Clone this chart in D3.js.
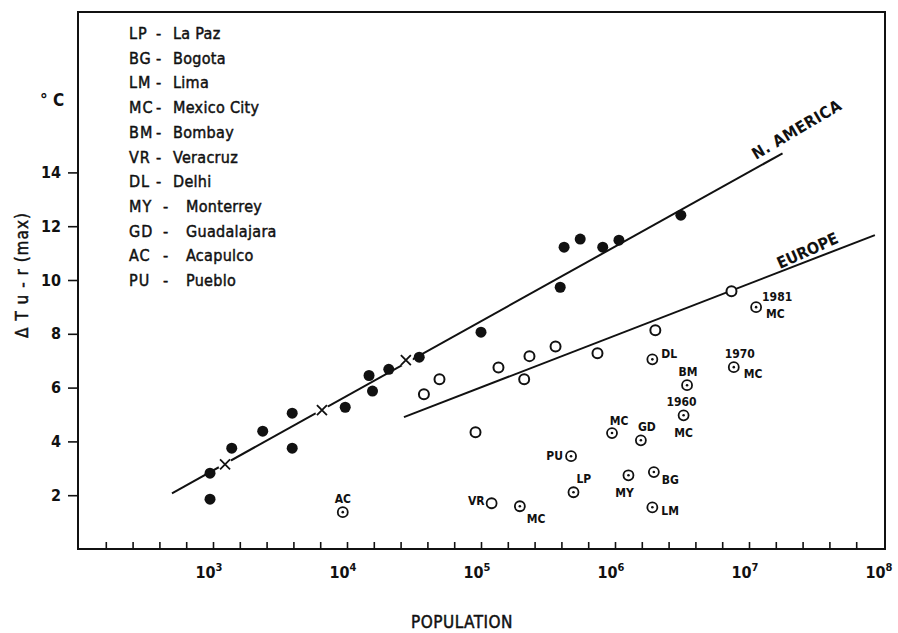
<!DOCTYPE html>
<html>
<head>
<meta charset="utf-8">
<script src="https://cdn.jsdelivr.net/npm/d3@7"></script>
<style>
  body { margin: 0; background: #fff; }
  svg text { font-family: "DejaVu Sans Condensed", "Liberation Sans Narrow", sans-serif; font-weight: bold; fill: #111; }
  svg text.medium { font-weight: normal; stroke: #111; stroke-width: 0.45px; }
</style>
</head>
<body>
<div id="chart"></div>
<script>
// ---- data (population, delta T) ----
const naFilled = [
  [950, 2.82], [950, 1.85], [1380, 3.75], [2350, 4.38], [3900, 5.05], [3900, 3.75],
  [9700, 5.27], [14600, 6.45], [15500, 5.87], [20500, 6.68], [34600, 7.13],
  [100000, 8.06], [390000, 9.73], [417000, 11.22], [550000, 11.52], [810000, 11.22],
  [1070000, 11.48], [3100000, 12.41]
];
const naCross = [[1230, 3.15], [6500, 5.16], [27500, 7.02]];
const euOpen = [
  [37500, 5.75], [49000, 6.31], [91000, 4.34], [135000, 6.75], [210000, 6.31],
  [230000, 7.17], [360000, 7.53], [740000, 7.28], [2000000, 8.13], [7400000, 9.58]
];
const tropCodes = ["AC", "VR", "MC", "LP", "PU", "MY", "MC", "GD", "BG", "LM", "DL", "BM", "MC", "MC", "MC"];
const tropYears = ["", "", "", "", "", "", "", "", "", "", "", "", "1960", "1970", "1981"];
const tropPop = [9300, 120000, 195000, 490000, 470000, 1260000, 950000, 1560000, 1950000, 1900000, 1900000, 3450000, 3250000, 7700000, 11300000];
const tropDT = [1.37, 1.70, 1.59, 2.11, 3.45, 2.74, 4.31, 4.04, 2.86, 1.55, 7.05, 6.09, 4.97, 6.76, 8.99];

const naLine = [[494, 2.07], [17800000, 14.71]];
const euLine = [[26600, 4.9], [87000000, 11.67]];

const legendCodes = ["LP", "BG", "LM", "MC", "BM", "VR", "DL", "MY", "GD", "AC", "PU"];
const legendNames = ["La Paz", "Bogota", "Lima", "Mexico City", "Bombay", "Veracruz", "Delhi", "Monterrey", "Guadalajara", "Acapulco", "Pueblo"];

const yTicks = [2, 4, 6, 8, 10, 12, 14];
const xDecades = [3, 4, 5, 6, 7, 8];

// ---- layout ----
const W = 898, H = 633;
const frame = {left: 78, right: 885, top: 12, bottom: 549};

const svg = d3.select("#chart").append("svg")
  .attr("width", W).attr("height", H);

const xScale = d3.scaleLog().domain([1e2, 1e8]).range([79, 883]);
const yScale = d3.scaleLinear().domain([0, 20]).range([549, 11]);

// frame
svg.append("rect")
  .attr("x", frame.left).attr("y", frame.top)
  .attr("width", frame.right - frame.left).attr("height", frame.bottom - frame.top)
  .attr("fill", "none").attr("stroke", "#111").attr("stroke-width", 2);

// y axis (ticks outward)
const yAxis = d3.axisLeft(yScale).tickValues(yTicks).tickSize(10).tickPadding(7).tickFormat(d3.format("d"));
const yAxisG = svg.append("g").attr("transform", "translate(" + frame.left + ",0)").call(yAxis);
yAxisG.select(".domain").remove();
yAxisG.selectAll("line").attr("stroke", "#111").attr("stroke-width", 1.6);
yAxisG.selectAll("text").style("font-size", "16px");

// x axis (ticks inward every 1/5 decade)
const xMinor = d3.range(1, 30).map(k => Math.pow(10, 2 + 0.2 * k));
const xAxis = d3.axisTop(xScale).tickValues(xMinor).tickSize(7).tickFormat("");
const xAxisG = svg.append("g").attr("transform", "translate(0," + frame.bottom + ")").call(xAxis);
xAxisG.select(".domain").remove();
xAxisG.selectAll("line").attr("stroke", "#111").attr("stroke-width", 1.6);

const xLab = svg.append("g").selectAll("text").data(xDecades).join("text")
  .attr("x", d => xScale(Math.pow(10, d)) - 4)
  .attr("y", 578)
  .attr("text-anchor", "middle")
  .style("font-size", "16px");
xLab.append("tspan").text("10");
xLab.append("tspan").attr("dy", -7).style("font-size", "11px").text(d => d);

// axis titles
svg.append("text").attr("class", "medium").attr("x", 462).attr("y", 628).attr("text-anchor", "middle")
  .style("font-size", "17px").style("letter-spacing", "0.5px").text("POPULATION");
svg.append("text").attr("class", "medium").attr("transform", "translate(28,275) rotate(-90)").attr("text-anchor", "middle")
  .style("font-size", "17px").style("letter-spacing", "1px").text("\u0394 T u - r (max)");
svg.append("text").attr("x", 40).attr("y", 106).style("font-size", "17px").text("\u00b0 C");

// legend (last four rows are set further right in the original)
const legG = svg.append("g");
legendCodes.forEach((c, i) => {
  const yy = 39 + i * 24.7;
  const dashX = i < 7 ? 156 : 163;
  const nameX = i < 7 ? 173 : 186;
  legG.append("text").attr("class", "medium").attr("x", 129).attr("y", yy).style("font-size", "16px")
    .style("letter-spacing", "1px").text(c);
  legG.append("text").attr("class", "medium").attr("x", dashX).attr("y", yy).style("font-size", "16px").text("-");
  legG.append("text").attr("class", "medium").attr("x", nameX).attr("y", yy).style("font-size", "16px")
    .style("letter-spacing", "0.3px").text(legendNames[i]);
});

// regression lines
const lineGen = d3.line().x(d => xScale(d[0])).y(d => yScale(d[1]));
svg.append("path").attr("d", lineGen(naLine)).attr("fill", "none").attr("stroke", "#111").attr("stroke-width", 2);
svg.append("path").attr("d", lineGen(euLine)).attr("fill", "none").attr("stroke", "#111").attr("stroke-width", 2);

// line labels
function angleOf(seg) {
  const dx = xScale(seg[1][0]) - xScale(seg[0][0]);
  const dy = yScale(seg[1][1]) - yScale(seg[0][1]);
  return Math.atan2(dy, dx) * 180 / Math.PI;
}
svg.append("text")
  .attr("transform", "translate(756,160) rotate(" + (angleOf(naLine) - 1.5) + ")")
  .style("font-size", "16px").style("letter-spacing", "0.5px").text("N. AMERICA");
svg.append("text")
  .attr("transform", "translate(780,269) rotate(" + (angleOf(euLine) - 3) + ")")
  .style("font-size", "16px").text("EUROPE");

// N. America filled dots
svg.append("g").selectAll("circle").data(naFilled).join("circle")
  .attr("cx", d => xScale(d[0])).attr("cy", d => yScale(d[1]))
  .attr("r", 5.5).attr("fill", "#111");

// crosses (line is broken around them)
const crossG = svg.append("g").selectAll("g").data(naCross).join("g")
  .attr("transform", d => "translate(" + xScale(d[0]) + "," + yScale(d[1]) + ")");
crossG.append("circle").attr("r", 7).attr("fill", "#fff");
crossG.append("path").attr("d", "M-5,-5L5,5M-5,5L5,-5").attr("stroke", "#111").attr("stroke-width", 1.8);

// Europe open circles
svg.append("g").selectAll("circle").data(euOpen).join("circle")
  .attr("cx", d => xScale(d[0])).attr("cy", d => yScale(d[1]))
  .attr("r", 5).attr("fill", "#fff").attr("stroke", "#111").attr("stroke-width", 2);

// tropical cities: circle with centre dot
const tropData = tropCodes.map((c, i) => ({code: c, year: tropYears[i], pop: tropPop[i], dt: tropDT[i]}));
const tropG = svg.append("g").selectAll("g").data(tropData).join("g")
  .attr("transform", d => "translate(" + xScale(d.pop) + "," + yScale(d.dt) + ")");
tropG.append("circle").attr("r", 5).attr("fill", "#fff").attr("stroke", "#111").attr("stroke-width", 1.8);
tropG.filter((d, i) => i !== 1).append("circle").attr("r", 1.3).attr("fill", "#111");

// label placement: [dx, dy, anchor] for code, and for year
const codePlace = [
  [0, -9, "middle"], [-7, 2, "end"], [7, 17, "start"], [3, -9, "start"], [-8, 4, "end"],
  [-4, 22, "middle"], [7, -8, "middle"], [6, -9, "middle"], [8, 12, "start"], [9, 8, "start"],
  [9, -1, "start"], [1, -9, "middle"], [0, 22, "middle"], [10, 11, "start"], [10, 11, "start"]
];
const yearPlace = {12: [-2, -9, "middle"], 13: [6, -9, "middle"], 14: [6, -6, "start"]};

tropG.append("text")
  .attr("x", (d, i) => codePlace[i][0]).attr("y", (d, i) => codePlace[i][1])
  .attr("text-anchor", (d, i) => codePlace[i][2])
  .style("font-size", "12px").text(d => d.code);
tropG.filter(d => d.year !== "").append("text")
  .attr("x", d => yearPlace[tropData.indexOf(d)][0])
  .attr("y", d => yearPlace[tropData.indexOf(d)][1])
  .attr("text-anchor", d => yearPlace[tropData.indexOf(d)][2])
  .style("font-size", "12px").text(d => d.year);
</script>
</body>
</html>
